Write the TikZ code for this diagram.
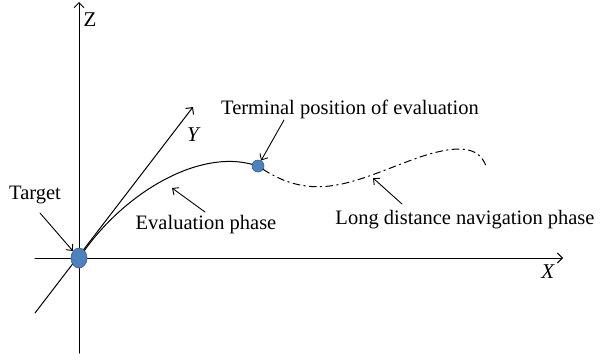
\documentclass[tikz,border=0pt]{standalone}
\usepackage{fontspec}
\setmainfont{Liberation Serif}
\usetikzlibrary{arrows.meta,shapes.geometric}

\definecolor{dotblue}{HTML}{4F81BD}
\definecolor{dotedge}{HTML}{385D8A}

\tikzset{
  axis/.style={line width=1pt, -{Straight Barb[length=5pt,width=10pt]}},
  pointer/.style={line width=0.9pt, -{Straight Barb[length=5pt,width=9pt]}},
  lbl/.style={inner sep=0pt, font=\fontsize{20.5}{24}\selectfont},
  axlbl/.style={inner sep=0pt, font=\fontsize{21}{25}\selectfont},
  spot/.style={fill=dotblue, draw=dotedge, line width=0.6pt, inner sep=0pt}
}

\begin{document}
\begin{tikzpicture}[x=1pt, y=-1pt, line cap=round, line join=round]

  %% ════ 坐标轴 ════
  \coordinate (zlo) at (79,353);
  \coordinate (zhi) at (79,2);
  \coordinate (xlo) at (35,258);
  \coordinate (xhi) at (563,258);
  \coordinate (ylo) at (35,313);
  \coordinate (yhi) at (193,107);
  \draw[axis] (zlo) -- (zhi);
  \draw[axis] (xlo) -- (xhi);
  \draw[axis] (ylo) -- (yhi);

  \node[axlbl] (zname) at (90,20) {Z};
  \node[axlbl] (yname) at (194,135) {\textit{Y}};
  \node[axlbl] (xname) at (548,272) {\textit{X}};

  %% ════ 轨迹 ════
  \node[spot, ellipse, minimum width=16pt, minimum height=20pt] (tgt) at (79,258) {};
  \node[spot, circle, minimum size=12pt] (term) at (258,166) {};

  \draw[line width=1pt] (tgt) .. controls (128,190) and (200,150) .. (term);
  \draw[line width=1pt, dash pattern=on 7pt off 4pt on 1.5pt off 4pt]
    (term) .. controls (318,205) and (360,178) .. (420,157)
           .. controls (465,142) and (480,150) .. (486,166);

  %% ════ 标签 ════
  \node[lbl] (lbtgt)  at (35,195)  {Target};
  \node[lbl] (lbterm) at (350,109) {Terminal position of evaluation};
  \node[lbl] (lbeval) at (206,225) {Evaluation phase};
  \node[lbl] (lblong) at (465,220) {Long distance navigation phase};

  \coordinate (ptgt)  at (40,213);
  \coordinate (pterm) at (284,120);
  \coordinate (peval) at (205,212);
  \coordinate (heval) at (172,188);
  \coordinate (plong) at (402,204);
  \coordinate (hlong) at (373,178);

  \draw[pointer] (ptgt) -- (tgt);
  \draw[pointer] (pterm) -- (term);
  \draw[pointer] (peval) -- (heval);
  \draw[pointer] (plong) -- (hlong);

  \pgfresetboundingbox
  \path[use as bounding box] (0,0) rectangle (601,360);
\end{tikzpicture}
\end{document}
